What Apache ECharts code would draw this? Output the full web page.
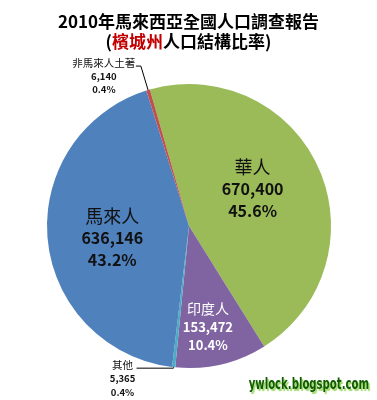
<!DOCTYPE html>
<html lang="zh-Hant">
<head>
    <meta charset="UTF-8">
    <title>檳城州人口結構比率</title>
    <style>
        html, body { margin: 0; padding: 0; background: #fff; }
        #chart { width: 377px; height: 400px; }
    </style>
</head>
<body>
    <div id="chart"></div>

    <script src="https://cdn.jsdelivr.net/npm/echarts@6/dist/echarts.min.js"></script>
    <script>
        // 順時針, 從華人開始
        var groups = ['華人', '印度人', '其他', '馬來人', '非馬來人土著'];
        var population = [670400, 153472, 5365, 636146, 6140];
        var colors = ['#9bbb59', '#8064a2', '#4bacc6', '#4f81bd', '#c0504d'];

        // 標籤樣式 / 位移
        var labelKind = ['big', 'mid', 'small', 'big', 'small'];
        var labelShift = [[-4, -7], [2, 29], [0, 0], [-3, 5], [0, 0]];
        var lineLen = [null, null, [1, 37], null, [25, 5]];
        var smallWidth = [0, 0, 24, 0, 60];

        var cjk = '"Noto Sans CJK TC", "Noto Sans", sans-serif';

        function fmt(p) {
            return '{n|' + p.name + '}\n{v|' + echarts.format.addCommas(p.value) +
                '}\n{v|' + p.percent.toFixed(1) + '%}';
        }

        function makeLabel(i) {
            var kind = labelKind[i];
            if (kind == 'big') {
                return {
                    position: 'inside', rotate: 0, formatter: fmt,
                    rich: {
                        n: { fontFamily: cjk, fontSize: 18, color: '#111', lineHeight: 22 },
                        v: { fontFamily: cjk, fontSize: 16, fontWeight: 'bold', color: '#111', lineHeight: 22 }
                    }
                };
            }
            if (kind == 'mid') {
                return {
                    position: 'inside', rotate: 0, formatter: fmt,
                    rich: {
                        n: { fontFamily: cjk, fontSize: 14, color: '#fff', lineHeight: 18.5 },
                        v: { fontFamily: cjk, fontSize: 13, fontWeight: 'bold', color: '#fff', lineHeight: 18.5 }
                    }
                };
            }
            var w = smallWidth[i];
            return {
                position: 'outside', rotate: 0, formatter: fmt,
                distanceToLabelLine: 2,
                padding: [20, 0, 0, 0],
                rich: {
                    n: { fontFamily: cjk, fontSize: 10.5, color: '#111', lineHeight: 14, width: w, align: 'center' },
                    v: { fontFamily: cjk, fontSize: 9.5, fontWeight: 'bold', color: '#111', lineHeight: 13.5, width: w, align: 'center' }
                }
            };
        }

        var pieData = [];
        for (var i = 0; i < groups.length; i++) {
            var item = {
                name: groups[i],
                value: population[i],
                itemStyle: { color: colors[i] },
                label: makeLabel(i)
            };
            if (lineLen[i]) {
                item.labelLine = {
                    show: true, length: lineLen[i][0], length2: lineLen[i][1],
                    smooth: false, lineStyle: { color: '#000', width: 1 }
                };
            } else {
                item.labelLine = { show: false };
            }
            pieData.push(item);
        }

        var chart = echarts.init(document.getElementById('chart'));
        var option = {
            animation: false,
            backgroundColor: '#fff',
            title: {
                left: 'center',
                top: 7,
                text: '2010年馬來西亞全國人口調查報告\n({r|檳城州}人口結構比率)',
                textStyle: {
                    fontFamily: cjk, fontSize: 17, fontWeight: 'bold', color: '#000', lineHeight: 20,
                    rich: {
                        r: { fontFamily: cjk, fontSize: 17, fontWeight: 'bold', color: '#c00000', lineHeight: 20 }
                    }
                }
            },
            tooltip: { show: false },
            series: [{
                type: 'pie',
                center: [189, 226],
                radius: 142,
                startAngle: 106,
                clockwise: true,
                percentPrecision: 1,
                avoidLabelOverlap: false,
                emphasis: { disabled: true },
                data: pieData,
                labelLayout: function (params) {
                    var s = labelShift[params.dataIndex];
                    if (!s[0] && !s[1]) return {};
                    return { dx: s[0], dy: s[1] };
                }
            }],
            graphic: [{
                type: 'text',
                right: 8,
                bottom: 7,
                scaleX: 0.75,
                style: {
                    text: 'ywlock.blogspot.com',
                    font: 'bold 15px "Liberation Sans Narrow", "DejaVu Sans Condensed", sans-serif',
                    fill: '#105c00',
                    textShadowColor: '#9ad860',
                    textShadowOffsetX: 1.5,
                    textShadowOffsetY: 1.5,
                    textShadowBlur: 1
                }
            }]
        };
        chart.setOption(option);
    </script>
</body>
</html>
